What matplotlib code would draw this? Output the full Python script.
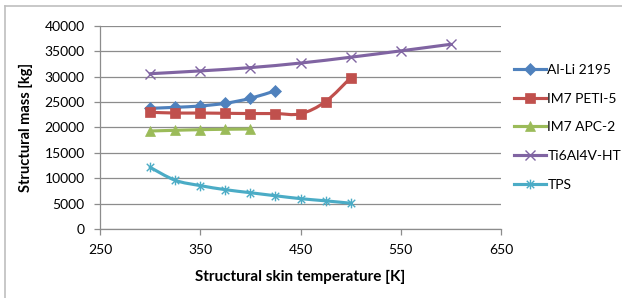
import numpy as np
import matplotlib
matplotlib.use('Agg')
import matplotlib.pyplot as plt
from matplotlib.path import Path
from matplotlib.patches import PathPatch
from matplotlib.lines import Line2D

plt.rcParams['font.family'] = ['Lato', 'DejaVu Sans']

# Data
alli_x = [300, 325, 350, 375, 400, 425]
alli_y = [23780, 23980, 24240, 24770, 25750, 27250]

peti_x = [300, 325, 350, 375, 400, 425, 450, 475, 500]
peti_y = [23000, 22850, 22850, 22800, 22750, 22750, 22700, 25100, 29800]

apc_x = [300, 325, 350, 375, 400]
apc_y = [19310, 19450, 19570, 19650, 19700]

ti_x = [300, 350, 400, 450, 500, 550, 600]
ti_y = [30600, 31150, 31800, 32700, 33850, 35100, 36400]

tps_x = [300, 325, 350, 375, 400, 425, 450, 475, 500]
tps_y = [12150, 9600, 8550, 7750, 7150, 6550, 5980, 5550, 5080]

series_names = ['Al-Li 2195', 'IM7 PETI-5', 'IM7 APC-2', 'Ti6Al4V-HT', 'TPS']
series_colors = ['#4F81BD', '#C0504D', '#9BBB59', '#8064A2', '#4BACC6']

# Excel style asterisk marker (x plus vertical bar)
star = Path([(-1, -1), (1, 1), (-1, 1), (1, -1), (0, -1.3), (0, 1.3)],
            [Path.MOVETO, Path.LINETO, Path.MOVETO, Path.LINETO, Path.MOVETO, Path.LINETO])
series_markers = ['D', 's', '^', 'x', star]
marker_sizes = [6, 7.5, 7.5, 7, 7]
edge_widths = [0.5, 0.5, 0.5, 1.0, 1.0]


def smooth_path(xs, ys):
    # Bezier path through the points, like Excel's "smoothed line"
    pts = np.column_stack([xs, ys]).astype(float)
    n = len(pts)
    verts = [pts[0]]
    codes = [Path.MOVETO]
    for i in range(n - 1):
        p0 = pts[max(i - 1, 0)]
        p1 = pts[i]
        p2 = pts[i + 1]
        p3 = pts[min(i + 2, n - 1)]
        verts += [p1 + (p2 - p0) / 6.0, p2 - (p3 - p1) / 6.0, p2]
        codes += [Path.CURVE4] * 3
    return Path(verts, codes)


fig = plt.figure(figsize=(6.22, 2.98), dpi=100)
ax = fig.add_axes([100 / 622, 1 - 229 / 298, 401 / 622, 203 / 298])

data = [(alli_x, alli_y), (peti_x, peti_y), (apc_x, apc_y), (ti_x, ti_y), (tps_x, tps_y)]
handles = []
for (xs, ys), name, col, mk, ms, ew in zip(data, series_names, series_colors,
                                           series_markers, marker_sizes, edge_widths):
    patch = PathPatch(smooth_path(xs, ys), facecolor='none', edgecolor=col, lw=2.25,
                      capstyle='round', joinstyle='round', zorder=3)
    ax.add_patch(patch)
    ax.plot(xs, ys, linestyle='none', marker=mk, markersize=ms, color=col,
            markeredgewidth=ew, zorder=4)
    handles.append(Line2D([], [], color=col, lw=2.25, marker=mk, markersize=ms,
                          markeredgewidth=ew))

ax.set_xlim(250, 650)
ax.set_ylim(0, 40000)
ax.set_xticks(range(250, 651, 100))
ax.set_yticks(range(0, 40001, 5000))
ax.yaxis.grid(True, color='#8C8C8C', lw=0.9)
ax.set_axisbelow(True)

for s in ['top', 'right']:
    ax.spines[s].set_visible(False)
for s in ['left', 'bottom']:
    ax.spines[s].set_color('#8C8C8C')
    ax.spines[s].set_linewidth(0.9)
ax.tick_params(axis='both', colors='#8C8C8C', labelcolor='black', labelsize=10,
               length=4, width=0.9, direction='out', pad=7)

ax.set_xlabel('Structural skin temperature [K]', fontsize=11, fontweight='bold', labelpad=10)
ax.set_ylabel('Structural mass [kg]', fontsize=10.5, fontweight='bold', labelpad=8)

fig.legend(handles, series_names, loc='upper left', bbox_to_anchor=(514 / 622, 1 - 64 / 298),
           frameon=False, fontsize=10, handlelength=2.3, handletextpad=0.1,
           labelspacing=1.2, borderaxespad=0, borderpad=0)

# chart area border (only top and left edges visible)
fig.add_artist(Line2D([5 / 622, 5 / 622], [0, 1 - 6 / 298], color='#BFBFBF', lw=1.2,
                      transform=fig.transFigure))
fig.add_artist(Line2D([5 / 622, 1], [1 - 6 / 298, 1 - 6 / 298], color='#BFBFBF', lw=1.2,
                      transform=fig.transFigure))

fig.savefig('out.png', dpi=100)
